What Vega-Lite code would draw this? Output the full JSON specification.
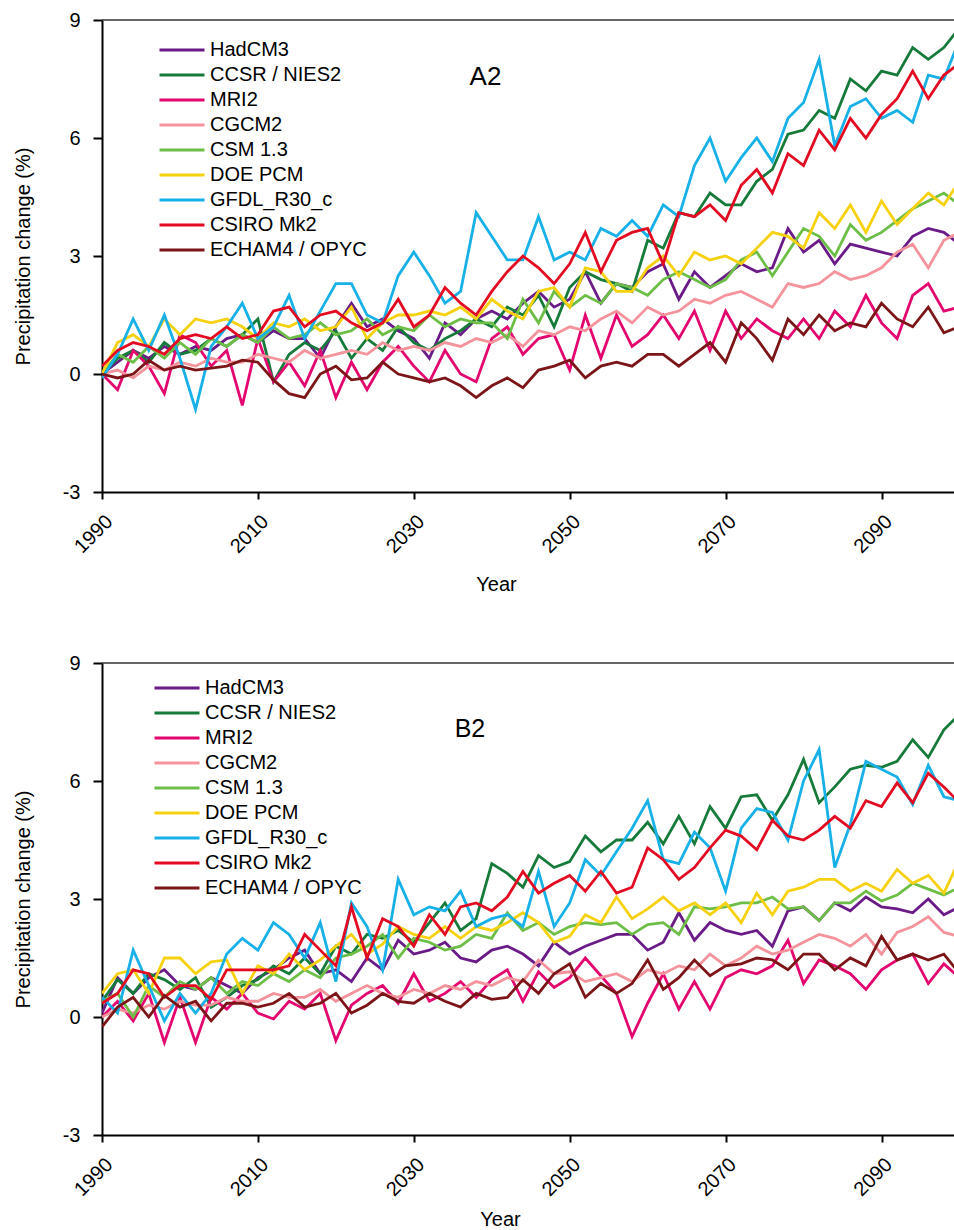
{
"$schema": "https://vega.github.io/schema/vega-lite/v6.json",
"background": "white",
"padding": {"left": 13, "top": 10, "right": 0, "bottom": 0},
"config": {
  "view": {"stroke": null},
  "font": "Liberation Sans",
  "axis": {"grid": false, "domainColor": "black", "domainWidth": 2, "tickColor": "black", "tickWidth": 2, "labelFont": "Liberation Sans", "labelFontSize": 20, "labelColor": "black", "titleFont": "Liberation Sans", "titleFontSize": 20, "titleFontWeight": "normal", "titleColor": "black"},
  "legend": {"padding": 0}
},
"datasets": {
"a2": [
{"year":1990,"H":0.0,"C":0.0,"M":0.0,"G":0.0,"S":0.0,"D":0.0,"F":-0.1,"R":0.2,"E":0.0},
{"year":1992,"H":0.3,"C":0.4,"M":-0.4,"G":0.1,"S":0.5,"D":0.8,"F":0.5,"R":0.6,"E":-0.1},
{"year":1994,"H":0.6,"C":0.6,"M":0.6,"G":-0.1,"S":0.3,"D":1.0,"F":1.4,"R":0.8,"E":0.0},
{"year":1996,"H":0.4,"C":0.3,"M":0.2,"G":0.2,"S":0.7,"D":0.7,"F":0.6,"R":0.7,"E":0.35},
{"year":1998,"H":0.7,"C":0.8,"M":-0.5,"G":0.1,"S":0.4,"D":1.4,"F":1.5,"R":0.5,"E":0.1},
{"year":2000,"H":0.5,"C":0.5,"M":1.0,"G":0.3,"S":0.8,"D":1.0,"F":0.4,"R":0.9,"E":0.2},
{"year":2002,"H":0.7,"C":0.6,"M":0.8,"G":0.2,"S":0.5,"D":1.4,"F":-0.9,"R":1.0,"E":0.1},
{"year":2004,"H":0.6,"C":0.9,"M":0.2,"G":0.4,"S":0.9,"D":1.3,"F":0.7,"R":0.9,"E":0.15},
{"year":2006,"H":0.9,"C":0.7,"M":0.6,"G":0.3,"S":0.7,"D":1.4,"F":1.2,"R":1.2,"E":0.2},
{"year":2008,"H":1.0,"C":1.0,"M":-0.8,"G":0.3,"S":1.0,"D":1.2,"F":1.8,"R":0.9,"E":0.35},
{"year":2010,"H":0.8,"C":1.4,"M":0.9,"G":0.5,"S":0.8,"D":0.9,"F":0.9,"R":1.0,"E":0.3},
{"year":2012,"H":1.1,"C":-0.2,"M":-0.2,"G":0.4,"S":1.2,"D":1.3,"F":1.2,"R":1.6,"E":-0.15},
{"year":2014,"H":0.9,"C":0.5,"M":0.3,"G":0.3,"S":0.9,"D":1.2,"F":2.0,"R":1.7,"E":-0.5},
{"year":2016,"H":0.9,"C":0.8,"M":-0.3,"G":0.6,"S":1.0,"D":1.4,"F":0.9,"R":1.2,"E":-0.6},
{"year":2018,"H":0.4,"C":0.6,"M":0.6,"G":0.4,"S":1.3,"D":1.1,"F":1.6,"R":1.5,"E":0.0},
{"year":2020,"H":1.2,"C":1.1,"M":-0.6,"G":0.5,"S":1.0,"D":1.2,"F":2.3,"R":1.6,"E":0.2},
{"year":2022,"H":1.8,"C":0.4,"M":0.3,"G":0.6,"S":1.1,"D":1.7,"F":2.3,"R":1.3,"E":-0.15},
{"year":2024,"H":1.2,"C":0.9,"M":-0.4,"G":0.5,"S":1.4,"D":0.9,"F":1.5,"R":1.1,"E":-0.1},
{"year":2026,"H":1.4,"C":0.6,"M":0.3,"G":0.8,"S":1.0,"D":1.3,"F":1.3,"R":1.3,"E":0.3},
{"year":2028,"H":1.1,"C":1.2,"M":0.7,"G":0.6,"S":1.2,"D":1.5,"F":2.5,"R":1.9,"E":0.0},
{"year":2030,"H":0.9,"C":0.8,"M":0.2,"G":0.7,"S":1.1,"D":1.5,"F":3.1,"R":1.2,"E":-0.1},
{"year":2032,"H":0.4,"C":0.6,"M":-0.2,"G":0.6,"S":1.5,"D":1.6,"F":2.5,"R":1.5,"E":-0.2},
{"year":2034,"H":1.3,"C":0.9,"M":0.6,"G":0.8,"S":1.2,"D":1.5,"F":1.8,"R":2.2,"E":-0.1},
{"year":2036,"H":1.0,"C":1.1,"M":0.0,"G":0.7,"S":1.4,"D":1.7,"F":2.1,"R":1.8,"E":-0.3},
{"year":2038,"H":1.4,"C":1.4,"M":-0.2,"G":0.9,"S":1.3,"D":1.4,"F":4.1,"R":1.5,"E":-0.6},
{"year":2040,"H":1.6,"C":1.2,"M":0.9,"G":0.8,"S":1.3,"D":1.9,"F":3.5,"R":2.1,"E":-0.3},
{"year":2042,"H":1.4,"C":1.7,"M":1.2,"G":1.0,"S":0.9,"D":1.6,"F":2.9,"R":2.6,"E":-0.1},
{"year":2044,"H":1.8,"C":1.5,"M":0.5,"G":0.7,"S":1.9,"D":1.4,"F":2.9,"R":3.0,"E":-0.35},
{"year":2046,"H":2.1,"C":2.0,"M":0.9,"G":1.1,"S":1.3,"D":2.1,"F":4.0,"R":2.7,"E":0.1},
{"year":2048,"H":1.7,"C":1.2,"M":1.0,"G":1.0,"S":2.1,"D":2.2,"F":2.9,"R":2.3,"E":0.2},
{"year":2050,"H":1.9,"C":2.2,"M":0.1,"G":1.2,"S":1.7,"D":1.7,"F":3.1,"R":2.8,"E":0.35},
{"year":2052,"H":2.6,"C":2.6,"M":1.5,"G":1.1,"S":2.0,"D":2.7,"F":2.9,"R":3.6,"E":-0.1},
{"year":2054,"H":1.8,"C":2.4,"M":0.4,"G":1.4,"S":1.8,"D":2.6,"F":3.7,"R":2.6,"E":0.2},
{"year":2056,"H":2.3,"C":2.3,"M":1.5,"G":1.6,"S":2.3,"D":2.1,"F":3.5,"R":3.4,"E":0.3},
{"year":2058,"H":2.2,"C":2.1,"M":0.7,"G":1.3,"S":2.2,"D":2.1,"F":3.9,"R":3.6,"E":0.2},
{"year":2060,"H":2.6,"C":3.4,"M":1.0,"G":1.7,"S":2.0,"D":2.7,"F":3.5,"R":3.7,"E":0.5},
{"year":2062,"H":2.8,"C":3.2,"M":1.5,"G":1.5,"S":2.4,"D":3.0,"F":4.3,"R":2.8,"E":0.5},
{"year":2064,"H":1.9,"C":4.1,"M":0.9,"G":1.6,"S":2.6,"D":2.5,"F":4.0,"R":4.1,"E":0.2},
{"year":2066,"H":2.6,"C":4.0,"M":1.6,"G":1.9,"S":2.4,"D":3.1,"F":5.3,"R":4.0,"E":0.5},
{"year":2068,"H":2.2,"C":4.6,"M":0.6,"G":1.8,"S":2.2,"D":2.9,"F":6.0,"R":4.3,"E":0.8},
{"year":2070,"H":2.5,"C":4.3,"M":1.6,"G":2.0,"S":2.4,"D":3.0,"F":4.9,"R":3.9,"E":0.3},
{"year":2072,"H":2.8,"C":4.3,"M":0.9,"G":2.1,"S":2.9,"D":2.8,"F":5.5,"R":4.8,"E":1.3},
{"year":2074,"H":2.6,"C":4.9,"M":1.4,"G":1.9,"S":3.1,"D":3.2,"F":6.0,"R":5.2,"E":0.9},
{"year":2076,"H":2.7,"C":5.2,"M":1.1,"G":1.7,"S":2.5,"D":3.6,"F":5.4,"R":4.6,"E":0.35},
{"year":2078,"H":3.7,"C":6.1,"M":0.9,"G":2.3,"S":3.1,"D":3.5,"F":6.5,"R":5.6,"E":1.4},
{"year":2080,"H":3.1,"C":6.2,"M":1.4,"G":2.2,"S":3.7,"D":3.2,"F":6.9,"R":5.3,"E":1.0},
{"year":2082,"H":3.4,"C":6.7,"M":0.9,"G":2.3,"S":3.5,"D":4.1,"F":8.0,"R":6.2,"E":1.5},
{"year":2084,"H":2.8,"C":6.5,"M":1.6,"G":2.6,"S":3.0,"D":3.7,"F":5.8,"R":5.7,"E":1.1},
{"year":2086,"H":3.3,"C":7.5,"M":1.2,"G":2.4,"S":3.8,"D":4.3,"F":6.8,"R":6.5,"E":1.3},
{"year":2088,"H":3.2,"C":7.2,"M":2.0,"G":2.5,"S":3.4,"D":3.6,"F":7.0,"R":6.0,"E":1.2},
{"year":2090,"H":3.1,"C":7.7,"M":1.3,"G":2.7,"S":3.6,"D":4.4,"F":6.5,"R":6.6,"E":1.8},
{"year":2092,"H":3.0,"C":7.6,"M":0.9,"G":3.1,"S":3.9,"D":3.8,"F":6.7,"R":7.0,"E":1.4},
{"year":2094,"H":3.5,"C":8.3,"M":2.0,"G":3.3,"S":4.2,"D":4.2,"F":6.4,"R":7.7,"E":1.2},
{"year":2096,"H":3.7,"C":8.0,"M":2.3,"G":2.7,"S":4.4,"D":4.6,"F":7.6,"R":7.0,"E":1.7},
{"year":2098,"H":3.6,"C":8.3,"M":1.6,"G":3.4,"S":4.6,"D":4.3,"F":7.5,"R":7.6,"E":1.05},
{"year":2100,"H":3.3,"C":8.8,"M":1.7,"G":3.6,"S":4.3,"D":4.9,"F":8.5,"R":7.9,"E":1.2}
],
"b2": [
{"year":1990,"H":0.1,"C":0.4,"M":0.0,"G":0.0,"S":0.4,"D":0.6,"F":0.5,"R":0.35,"E":-0.25},
{"year":1992,"H":1.0,"C":0.95,"M":0.4,"G":0.2,"S":0.6,"D":1.1,"F":0.1,"R":0.6,"E":0.25},
{"year":1994,"H":0.6,"C":0.6,"M":-0.1,"G":0.1,"S":0.0,"D":1.2,"F":1.7,"R":1.2,"E":0.5},
{"year":1996,"H":1.0,"C":1.1,"M":0.6,"G":0.3,"S":0.8,"D":0.6,"F":0.8,"R":1.1,"E":0.0},
{"year":1998,"H":1.2,"C":0.95,"M":-0.65,"G":0.2,"S":0.5,"D":1.5,"F":-0.1,"R":0.5,"E":0.55},
{"year":2000,"H":0.8,"C":0.7,"M":0.5,"G":0.4,"S":0.9,"D":1.5,"F":0.6,"R":0.8,"E":0.25},
{"year":2002,"H":0.7,"C":1.0,"M":-0.65,"G":0.3,"S":0.7,"D":1.1,"F":0.1,"R":0.8,"E":0.4},
{"year":2004,"H":1.0,"C":0.25,"M":0.5,"G":0.3,"S":1.0,"D":1.4,"F":0.6,"R":0.45,"E":-0.1},
{"year":2006,"H":0.8,"C":0.5,"M":0.2,"G":0.5,"S":0.6,"D":1.45,"F":1.6,"R":1.2,"E":0.35},
{"year":2008,"H":0.6,"C":0.8,"M":0.6,"G":0.4,"S":0.9,"D":0.6,"F":2.0,"R":1.2,"E":0.35},
{"year":2010,"H":1.0,"C":0.95,"M":0.1,"G":0.4,"S":0.8,"D":1.3,"F":1.7,"R":1.2,"E":0.25},
{"year":2012,"H":1.2,"C":1.3,"M":-0.05,"G":0.6,"S":1.1,"D":1.1,"F":2.4,"R":1.2,"E":0.35},
{"year":2014,"H":1.5,"C":1.1,"M":0.4,"G":0.5,"S":0.9,"D":1.6,"F":2.1,"R":1.3,"E":0.6},
{"year":2016,"H":1.7,"C":1.5,"M":0.2,"G":0.5,"S":1.2,"D":1.2,"F":1.5,"R":2.1,"E":0.25},
{"year":2018,"H":1.1,"C":1.1,"M":0.6,"G":0.7,"S":1.0,"D":1.45,"F":2.4,"R":1.7,"E":0.35},
{"year":2020,"H":1.2,"C":1.8,"M":-0.6,"G":0.4,"S":1.5,"D":1.8,"F":0.9,"R":1.3,"E":0.6},
{"year":2022,"H":0.9,"C":1.6,"M":0.3,"G":0.6,"S":1.6,"D":2.1,"F":2.9,"R":2.8,"E":0.1},
{"year":2024,"H":1.5,"C":2.1,"M":0.6,"G":0.8,"S":1.8,"D":1.6,"F":2.3,"R":1.5,"E":0.3},
{"year":2026,"H":1.2,"C":2.0,"M":0.8,"G":0.6,"S":2.1,"D":1.85,"F":1.2,"R":2.5,"E":0.6},
{"year":2028,"H":1.95,"C":2.2,"M":0.35,"G":0.5,"S":1.5,"D":2.3,"F":3.5,"R":2.3,"E":0.4},
{"year":2030,"H":1.6,"C":1.9,"M":1.1,"G":0.7,"S":2.0,"D":2.1,"F":2.6,"R":1.8,"E":0.35},
{"year":2032,"H":1.7,"C":2.4,"M":0.4,"G":0.6,"S":1.9,"D":2.0,"F":2.8,"R":2.6,"E":0.6},
{"year":2034,"H":1.9,"C":2.9,"M":0.6,"G":0.8,"S":1.7,"D":2.3,"F":2.7,"R":2.1,"E":0.4},
{"year":2036,"H":1.5,"C":2.2,"M":0.9,"G":0.7,"S":1.8,"D":2.0,"F":3.2,"R":2.8,"E":0.25},
{"year":2038,"H":1.4,"C":2.5,"M":0.5,"G":0.9,"S":2.1,"D":2.3,"F":2.3,"R":2.9,"E":0.6},
{"year":2040,"H":1.7,"C":3.9,"M":0.95,"G":0.8,"S":2.0,"D":2.2,"F":2.5,"R":2.7,"E":0.45},
{"year":2042,"H":1.8,"C":3.65,"M":1.2,"G":1.0,"S":2.65,"D":2.4,"F":2.6,"R":3.05,"E":0.5},
{"year":2044,"H":1.6,"C":3.3,"M":0.4,"G":0.9,"S":2.2,"D":2.65,"F":2.3,"R":3.7,"E":0.95},
{"year":2046,"H":1.3,"C":4.1,"M":1.15,"G":1.45,"S":2.4,"D":2.4,"F":3.7,"R":3.15,"E":0.6},
{"year":2048,"H":1.9,"C":3.8,"M":0.75,"G":1.1,"S":2.1,"D":1.9,"F":2.3,"R":3.4,"E":1.1},
{"year":2050,"H":1.6,"C":3.95,"M":1.0,"G":1.15,"S":2.3,"D":2.05,"F":2.9,"R":3.6,"E":1.35},
{"year":2052,"H":1.8,"C":4.6,"M":1.5,"G":0.9,"S":2.4,"D":2.6,"F":4.0,"R":3.2,"E":0.5},
{"year":2054,"H":1.95,"C":4.2,"M":1.05,"G":1.0,"S":2.35,"D":2.4,"F":3.6,"R":3.7,"E":0.85},
{"year":2056,"H":2.1,"C":4.5,"M":0.6,"G":1.1,"S":2.4,"D":3.05,"F":4.2,"R":3.15,"E":0.6},
{"year":2058,"H":2.1,"C":4.5,"M":-0.5,"G":0.9,"S":2.1,"D":2.5,"F":4.8,"R":3.3,"E":0.85},
{"year":2060,"H":1.7,"C":4.95,"M":0.35,"G":1.2,"S":2.35,"D":2.75,"F":5.5,"R":4.3,"E":1.45},
{"year":2062,"H":1.9,"C":4.4,"M":1.1,"G":1.1,"S":2.4,"D":3.05,"F":4.0,"R":4.0,"E":0.7},
{"year":2064,"H":2.65,"C":5.1,"M":0.2,"G":1.3,"S":2.1,"D":2.7,"F":3.9,"R":3.5,"E":1.0},
{"year":2066,"H":1.95,"C":4.4,"M":0.9,"G":1.2,"S":2.8,"D":2.9,"F":4.7,"R":3.8,"E":1.45},
{"year":2068,"H":2.4,"C":5.35,"M":0.2,"G":1.6,"S":2.75,"D":2.6,"F":4.3,"R":4.3,"E":1.05},
{"year":2070,"H":2.2,"C":4.8,"M":1.0,"G":1.3,"S":2.8,"D":2.9,"F":3.2,"R":4.75,"E":1.3},
{"year":2072,"H":2.1,"C":5.6,"M":1.2,"G":1.5,"S":2.9,"D":2.4,"F":4.8,"R":4.6,"E":1.35},
{"year":2074,"H":2.2,"C":5.65,"M":1.1,"G":1.8,"S":2.9,"D":3.15,"F":5.3,"R":4.25,"E":1.5},
{"year":2076,"H":1.8,"C":5.0,"M":1.3,"G":1.6,"S":3.05,"D":2.6,"F":5.2,"R":5.0,"E":1.45},
{"year":2078,"H":2.7,"C":5.65,"M":1.95,"G":1.7,"S":2.75,"D":3.2,"F":4.5,"R":4.6,"E":1.2},
{"year":2080,"H":2.8,"C":6.55,"M":0.85,"G":1.9,"S":2.8,"D":3.3,"F":6.0,"R":4.5,"E":1.6},
{"year":2082,"H":2.45,"C":5.45,"M":1.45,"G":2.1,"S":2.45,"D":3.5,"F":6.8,"R":4.75,"E":1.6},
{"year":2084,"H":2.9,"C":5.85,"M":1.3,"G":2.0,"S":2.9,"D":3.5,"F":3.8,"R":5.1,"E":1.2},
{"year":2086,"H":2.7,"C":6.3,"M":1.1,"G":1.8,"S":2.9,"D":3.2,"F":4.9,"R":4.8,"E":1.5},
{"year":2088,"H":3.05,"C":6.4,"M":0.7,"G":2.1,"S":3.2,"D":3.4,"F":6.5,"R":5.5,"E":1.3},
{"year":2090,"H":2.8,"C":6.35,"M":1.2,"G":1.6,"S":2.95,"D":3.2,"F":6.3,"R":5.35,"E":2.05},
{"year":2092,"H":2.75,"C":6.5,"M":1.45,"G":2.15,"S":3.1,"D":3.75,"F":6.1,"R":5.95,"E":1.45},
{"year":2094,"H":2.65,"C":7.05,"M":1.6,"G":2.3,"S":3.4,"D":3.4,"F":5.4,"R":5.45,"E":1.6},
{"year":2096,"H":3.0,"C":6.6,"M":0.85,"G":2.55,"S":3.25,"D":3.6,"F":6.4,"R":6.2,"E":1.45},
{"year":2098,"H":2.6,"C":7.3,"M":1.35,"G":2.15,"S":3.1,"D":3.15,"F":5.6,"R":5.85,"E":1.6},
{"year":2100,"H":2.8,"C":7.7,"M":1.0,"G":2.05,"S":3.3,"D":4.0,"F":5.5,"R":5.45,"E":1.1}
]
},
"resolve": {"scale": {"color": "independent"}, "legend": {"color": "independent"}},
"spacing": 171,
"bounds": "flush",
"vconcat": [
{
  "width": 852, "height": 472,
  "layer": [
    {
      "data": {"name": "a2"},
      "transform": [{"fold": ["H","C","M","G","S","D","F","R","E"], "as": ["model","pct"]}],
      "mark": {"type": "line", "strokeWidth": 2.8, "clip": true},
      "encoding": {
        "x": {"field": "year", "type": "quantitative", "scale": {"domain": [1990, 2099.3], "nice": false, "zero": false},
              "axis": {"values": [1990,2010,2030,2050,2070,2090], "format": "d", "labelAngle": -45, "tickSize": 7, "labelPadding": 12, "labelOverlap": false, "labelFlush": false, "title": "Year", "titleX": 394, "titleY": 92, "titleBaseline": "middle"}},
        "y": {"field": "pct", "type": "quantitative", "scale": {"domain": [-3, 9], "nice": false, "zero": false},
              "axis": {"values": [-3,0,3,6,9], "labelExpr": "'' + datum.value", "tickSize": 9, "labelPadding": 13, "titlePadding": 29, "title": "Precipitation change (%)"}},
        "color": {"field": "model", "type": "nominal",
                  "scale": {"domain": ["H","C","M","G","S","D","F","R","E"], "range": ["#6a1b87","#167a3a","#e3066f","#f4939b","#6dbe47","#f6d10f","#17b1e8","#e30b22","#7c1518"]},
                  "legend": {"title": null, "orient": "none", "legendX": 56, "legendY": 17.5, "symbolType": "stroke", "symbolSize": 2025, "symbolStrokeWidth": 3, "clipHeight": 25, "rowPadding": 0, "labelOffset": 4, "labelFont": "Liberation Sans", "labelFontSize": 20, "labelColor": "black",
                             "labelExpr": "{'H':'HadCM3','C':'CCSR / NIES2','M':'MRI2','G':'CGCM2','S':'CSM 1.3','D':'DOE PCM','F':'GFDL_R30_c','R':'CSIRO Mk2','E':'ECHAM4 / OPYC'}[datum.label]"}}
      }
    },
    {
      "data": {"values": [{}]},
      "mark": {"type": "rule", "color": "#333333", "strokeWidth": 1.5},
      "encoding": {"y": {"datum": 9, "type": "quantitative"}}
    },
    {
      "data": {"values": [{"label": "A2"}]},
      "mark": {"type": "text", "font": "Liberation Sans", "fontSize": 26, "color": "black"},
      "encoding": {"x": {"datum": 2039.2, "type": "quantitative"}, "y": {"datum": 7.55, "type": "quantitative"}, "text": {"field": "label"}}
    }
  ]
},
{
  "width": 852, "height": 472,
  "layer": [
    {
      "data": {"name": "b2"},
      "transform": [{"fold": ["H","C","M","G","S","D","F","R","E"], "as": ["model","pct"]}],
      "mark": {"type": "line", "strokeWidth": 2.8, "clip": true},
      "encoding": {
        "x": {"field": "year", "type": "quantitative", "scale": {"domain": [1990, 2099.3], "nice": false, "zero": false},
              "axis": {"values": [1990,2010,2030,2050,2070,2090], "format": "d", "labelAngle": -45, "tickSize": 7, "labelPadding": 12, "labelOverlap": false, "labelFlush": false, "title": "Year", "titleX": 398, "titleY": 84, "titleBaseline": "middle"}},
        "y": {"field": "pct", "type": "quantitative", "scale": {"domain": [-3, 9], "nice": false, "zero": false},
              "axis": {"values": [-3,0,3,6,9], "labelExpr": "'' + datum.value", "tickSize": 9, "labelPadding": 13, "titlePadding": 29, "title": "Precipitation change (%)"}},
        "color": {"field": "model", "type": "nominal",
                  "scale": {"domain": ["H","C","M","G","S","D","F","R","E"], "range": ["#6a1b87","#167a3a","#e3066f","#f4939b","#6dbe47","#f6d10f","#17b1e8","#e30b22","#7c1518"]},
                  "legend": {"title": null, "orient": "none", "legendX": 51, "legendY": 12.5, "symbolType": "stroke", "symbolSize": 2025, "symbolStrokeWidth": 3, "clipHeight": 25, "rowPadding": 0, "labelOffset": 4, "labelFont": "Liberation Sans", "labelFontSize": 20, "labelColor": "black",
                             "labelExpr": "{'H':'HadCM3','C':'CCSR / NIES2','M':'MRI2','G':'CGCM2','S':'CSM 1.3','D':'DOE PCM','F':'GFDL_R30_c','R':'CSIRO Mk2','E':'ECHAM4 / OPYC'}[datum.label]"}}
      }
    },
    {
      "data": {"values": [{}]},
      "mark": {"type": "rule", "color": "#333333", "strokeWidth": 1.5},
      "encoding": {"y": {"datum": 9, "type": "quantitative"}}
    },
    {
      "data": {"values": [{"label": "B2"}]},
      "mark": {"type": "text", "font": "Liberation Sans", "fontSize": 25, "color": "black"},
      "encoding": {"x": {"datum": 2037.2, "type": "quantitative"}, "y": {"datum": 7.32, "type": "quantitative"}, "text": {"field": "label"}}
    }
  ]
}
]
}
